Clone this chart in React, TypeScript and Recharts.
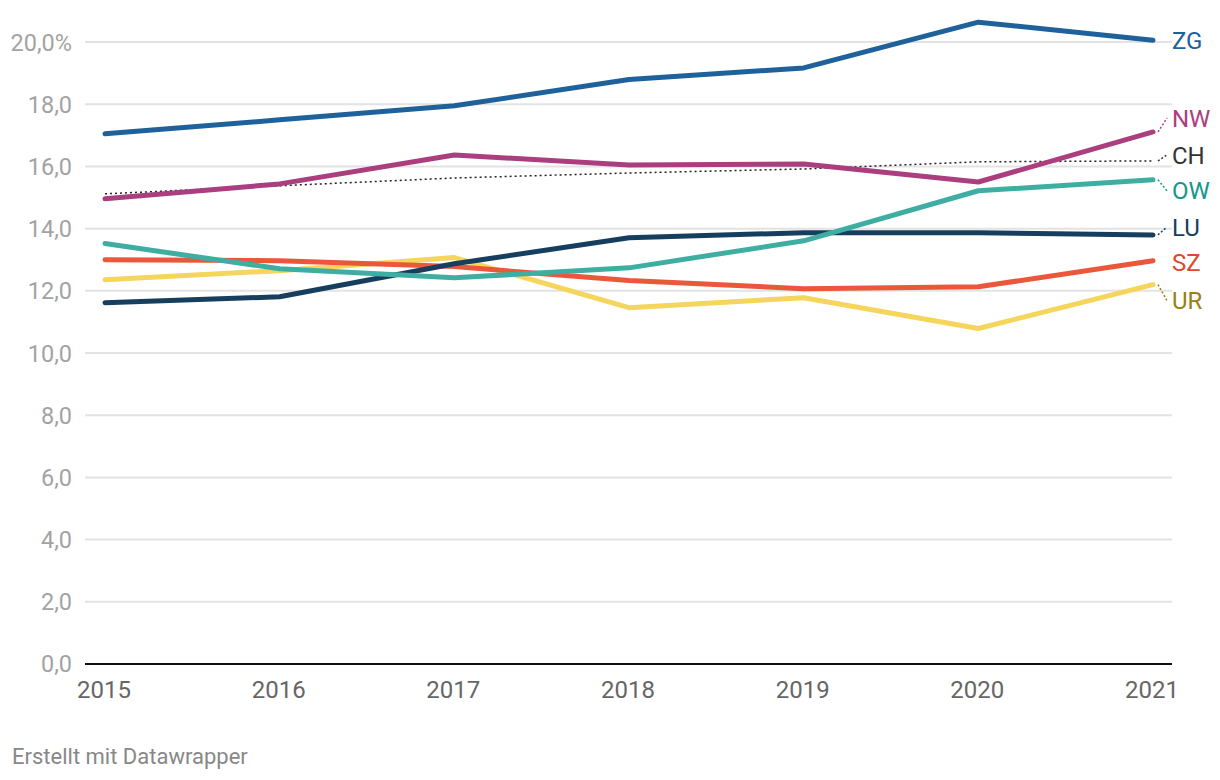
import { LineChart, Line, XAxis, YAxis, CartesianGrid, LabelList } from 'recharts';

const years = [2015, 2016, 2017, 2018, 2019, 2020, 2021];

// Anteil in %
const zg = [17.05, 17.5, 17.95, 18.8, 19.17, 20.64, 20.06];
const nw = [14.96, 15.44, 16.37, 16.05, 16.08, 15.5, 17.11];
const ch = [15.12, 15.38, 15.63, 15.79, 15.92, 16.15, 16.18];
const ow = [13.52, 12.71, 12.42, 12.74, 13.61, 15.22, 15.57];
const lu = [11.62, 11.81, 12.87, 13.71, 13.87, 13.87, 13.8];
const sz = [13.0, 12.97, 12.78, 12.33, 12.07, 12.13, 12.97];
const ur = [12.36, 12.65, 13.07, 11.46, 11.78, 10.79, 12.2];

const yTicks = [0, 2, 4, 6, 8, 10, 12, 14, 16, 18, 20];

const data = years.map((year, i) => ({
  year,
  ZG: zg[i],
  NW: nw[i],
  CH: ch[i],
  OW: ow[i],
  LU: lu[i],
  SZ: sz[i],
  UR: ur[i],
}));

// stroke, label colour, label shift in px (to avoid overlap)
const series = [
  { key: 'UR', stroke: '#f5d55c', text: '#9a8012', shift: 16, width: 5 },
  { key: 'SZ', stroke: '#ea573a', text: '#e0472c', shift: 2, width: 5 },
  { key: 'LU', stroke: '#163e5f', text: '#163e5f', shift: -8, width: 5 },
  { key: 'OW', stroke: '#3faea2', text: '#14968a', shift: 11, width: 5 },
  { key: 'NW', stroke: '#ab3e7f', text: '#ab3e7f', shift: -14, width: 5 },
  { key: 'ZG', stroke: '#1e619b', text: '#1e619b', shift: 0, width: 5 },
];

const FONT = 'Roboto, sans-serif';

const YTick = (props: any) => {
  const { y, payload } = props;
  const v = payload.value as number;
  const label = v === 20 ? '20,0%' : v.toFixed(1).replace('.', ',');
  return (
    <text x={72} y={y} dy="0.36em" textAnchor="end" fill="#a3a3a3" fontSize={23.5} fontFamily={FONT}>
      {label}
    </text>
  );
};

const XTick = (props: any) => {
  const { x, payload } = props;
  return (
    <text x={x - 1} y={689.5} dy="0.36em" textAnchor="middle" fill="#666" fontSize={24} fontFamily={FONT}>
      {payload.value}
    </text>
  );
};

const endLabel = (name: string, color: string, shift: number) => (props: any) => {
  const { x, y, index } = props;
  if (index !== years.length - 1) return null;
  const ly = y + shift;
  return (
    <g>
      {Math.abs(shift) > 3 && (
        <line x1={x + 5} y1={y} x2={x + 14} y2={ly} stroke={color} strokeWidth={1.5} strokeDasharray="2 2" />
      )}
      <text x={x + 19} y={ly} dy="0.36em" fill={color} fontSize={24} fontFamily={FONT}>
        {name}
      </text>
    </g>
  );
};

export default function App() {
  return (
    <div style={{ position: 'absolute', left: 0, top: 0, width: 1220, height: 780, background: '#fff' }}>
      <LineChart width={1220} height={780} data={data} margin={{ top: 11, right: 48, bottom: 76, left: 0 }}>
        <CartesianGrid vertical={false} stroke="#e3e3e3" strokeWidth={2} horizontalValues={yTicks} />
        <XAxis
          dataKey="year"
          padding={{ left: 20, right: 19 }}
          axisLine={{ stroke: '#111', strokeWidth: 2 }}
          tickLine={false}
          height={40}
          tick={<XTick />}
          interval={0}
        />
        <YAxis
          domain={[0, 21]}
          ticks={yTicks}
          width={85}
          axisLine={false}
          tickLine={false}
          tick={<YTick />}
          interval={0}
        />
        <Line
          dataKey="CH"
          stroke="#222"
          strokeWidth={1.5}
          strokeDasharray="2 3"
          dot={false}
          isAnimationActive={false}
        >
          <LabelList content={endLabel('CH', '#333', -6)} />
        </Line>
        {series.map((s) => (
          <Line
            key={s.key}
            dataKey={s.key}
            stroke={s.stroke}
            strokeWidth={s.width}
            strokeLinecap="round"
            strokeLinejoin="round"
            dot={false}
            isAnimationActive={false}
          >
            <LabelList content={endLabel(s.key, s.text, s.shift)} />
          </Line>
        ))}
      </LineChart>
      <div
        style={{
          position: 'absolute',
          left: 12,
          top: 744,
          fontFamily: FONT,
          fontSize: 22,
          color: '#888',
          lineHeight: '26px',
        }}
      >
        Erstellt mit Datawrapper
      </div>
    </div>
  );
}
